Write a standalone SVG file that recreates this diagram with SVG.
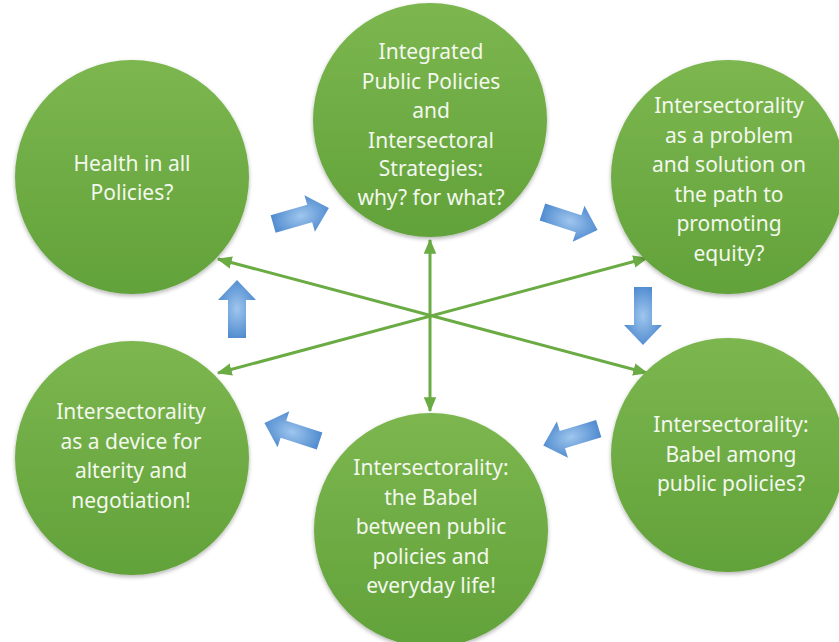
<svg xmlns="http://www.w3.org/2000/svg" width="839" height="642" viewBox="0 0 839 642">
<style>
.node circle{fill:url(#gGreen);filter:url(#sh)}
.node text{font-family:"Noto Sans","Open Sans","Liberation Sans",sans-serif;font-size:21px;fill:#f3f8ee;text-anchor:middle}
.conn line{stroke:#6aab43;stroke-width:3;marker-start:url(#ah);marker-end:url(#ah)}
.blk{fill:url(#gBlue)}
</style>
<defs>
<linearGradient id="gGreen" x1="0" y1="0" x2="0" y2="1">
<stop offset="0" stop-color="#7cb64f"/>
<stop offset="1" stop-color="#62a23a"/>
</linearGradient>
<radialGradient id="gBlue" cx="0.5" cy="0.5" r="0.6">
<stop offset="0" stop-color="#9fc6ee"/>
<stop offset="1" stop-color="#4583cb"/>
</radialGradient>
<filter id="sh" x="-10%" y="-10%" width="120%" height="125%">
<feGaussianBlur in="SourceAlpha" stdDeviation="2"/>
<feOffset dy="2" result="b"/>
<feComponentTransfer><feFuncA type="linear" slope="0.3"/></feComponentTransfer>
<feMerge><feMergeNode/><feMergeNode in="SourceGraphic"/></feMerge>
</filter>
<marker id="ah" viewBox="0 0 12 10" refX="11" refY="5" markerWidth="5" markerHeight="4.5" orient="auto-start-reverse" markerUnits="strokeWidth">
<path d="M0,0 L12,5 L0,10 Z" fill="#6aab43"/>
</marker>
<polygon id="bArrow" points="-29,-9 9,-9 9,-19 29,0 9,19 9,9 -29,9"/>
</defs>
<rect width="839" height="642" fill="#ffffff"/>

<g id="connectors" class="conn">
<line x1="430" y1="240" x2="430" y2="411"/>
<line x1="218" y1="259" x2="647" y2="373"/>
<line x1="218" y1="373" x2="647" y2="258"/>
</g>

<g id="flow-arrows">
<use href="#bArrow" class="blk" transform="translate(301,216) rotate(-16)"/>
<use href="#bArrow" class="blk" transform="translate(570,221) rotate(18)"/>
<use href="#bArrow" class="blk" transform="translate(643,316) rotate(90)"/>
<use href="#bArrow" class="blk" transform="translate(571,437) rotate(163)"/>
<use href="#bArrow" class="blk" transform="translate(292,432) rotate(-162)"/>
<use href="#bArrow" class="blk" transform="translate(237,309) rotate(-90)"/>
</g>

<g id="n1" class="node">
<circle cx="132" cy="177" r="117"/>
<text x="132" y="171">Health in all</text>
<text x="132" y="200">Policies?</text>
</g>

<g id="n2" class="node">
<circle cx="430" cy="120" r="117"/>
<text x="431" y="59">Integrated</text>
<text x="431" y="88.5">Public Policies</text>
<text x="431" y="118">and</text>
<text x="431" y="147.5">Intersectoral</text>
<text x="431" y="176">Strategies:</text>
<text x="431" y="205">why? for what?</text>
</g>

<g id="n3" class="node">
<circle cx="728" cy="177" r="117"/>
<text x="729" y="113">Intersectorality</text>
<text x="729" y="142.5">as a problem</text>
<text x="729" y="172">and solution on</text>
<text x="729" y="201.5">the path to</text>
<text x="729" y="231">promoting</text>
<text x="729" y="260.5">equity?</text>
</g>

<g id="n4" class="node">
<circle cx="728" cy="455" r="117"/>
<text x="731" y="432">Intersectorality:</text>
<text x="731" y="461.5">Babel among</text>
<text x="731" y="491">public policies?</text>
</g>

<g id="n5" class="node">
<circle cx="431" cy="530" r="117"/>
<text x="431" y="475">Intersectorality:</text>
<text x="431" y="504.5">the Babel</text>
<text x="431" y="534">between public</text>
<text x="431" y="563.5">policies and</text>
<text x="431" y="593">everyday life!</text>
</g>

<g id="n6" class="node">
<circle cx="132" cy="458" r="117"/>
<text x="131" y="419">Intersectorality</text>
<text x="131" y="448.5">as a device for</text>
<text x="131" y="478">alterity and</text>
<text x="131" y="507.5">negotiation!</text>
</g>
</svg>
